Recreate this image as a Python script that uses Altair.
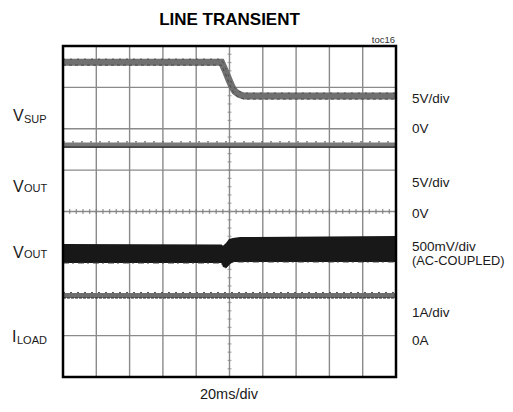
import altair as alt
import pandas as pd

# ---------------- data (time in ms, level in screen divisions) ----------------
grid_t = [20, 40, 60, 80, 100, 120, 140, 160, 180]
grid_y = [1, 2, 3, 4, 5, 6, 7]
minor_t = [i * 4 for i in range(1, 50)]
minor_y = [i * 0.2 for i in range(1, 40)]

vsup_t = [0, 95.2, 97.3, 99.7, 101.5, 103.3, 105.7, 108.7, 200]
vsup_y = [7.61, 7.61, 7.42, 7.18, 7.01, 6.90, 6.83, 6.79, 6.79]

voutdc_t = [0, 200]
voutdc_y = [5.61, 5.61]

voutac_t = [0, 95.2, 96.1, 97.9, 99.7, 102.1, 106.3, 200]
voutac_hi = [3.215, 3.20, 3.17, 3.24, 3.335, 3.36, 3.384, 3.408]
voutac_lo = [2.755, 2.755, 2.66, 2.634, 2.707, 2.78, 2.78, 2.78]

iload_t = [0, 200]
iload_y = [1.97, 1.97]

right_labels = ["5V/div", "0V", "5V/div", "0V", "500mV/div", "(AC-COUPLED)", "1A/div", "0A"]

FONT = "Liberation Sans Narrow, Liberation Sans, Arial, sans-serif"
W, H = 333, 331

xs = alt.Scale(domain=[0, 200], nice=False, zero=False)
ys = alt.Scale(domain=[0, 8], nice=False, zero=False)

def X(f):
    return alt.X(f, type="quantitative", scale=xs, axis=None)

def Y(f):
    return alt.Y(f, type="quantitative", scale=ys, axis=None)

GRID = "#8a8a8a"

vgrid = alt.Chart(pd.DataFrame({"t": grid_t})).mark_rule(color=GRID, strokeWidth=1.4).encode(x=X("t"))
hgrid = alt.Chart(pd.DataFrame({"y": grid_y})).mark_rule(color=GRID, strokeWidth=1.4).encode(y=Y("y"))

hticks = alt.Chart(pd.DataFrame({"t": minor_t, "y": [4] * len(minor_t)})).mark_tick(
    orient="vertical", color="#777", size=5, thickness=1.4).encode(x=X("t"), y=Y("y"))
vticks = alt.Chart(pd.DataFrame({"t": [100] * len(minor_y), "y": minor_y})).mark_tick(
    orient="horizontal", color="#888", size=4, thickness=1.2).encode(x=X("t"), y=Y("y"))

vsup_df = pd.DataFrame({"t": vsup_t, "y": vsup_y})
vsup = alt.Chart(vsup_df).mark_line(color="#707070", strokeWidth=7).encode(x=X("t"), y=Y("y"))
vsup_n1 = alt.Chart(vsup_df).mark_line(color="#444", strokeWidth=0.9, strokeDash=[2, 5], yOffset=-3).encode(x=X("t"), y=Y("y"))
vsup_n2 = alt.Chart(vsup_df).mark_line(color="#444", strokeWidth=0.9, strokeDash=[3, 3], yOffset=3).encode(x=X("t"), y=Y("y"))

vdc_df = pd.DataFrame({"t": voutdc_t, "y": voutdc_y})
vdc = alt.Chart(vdc_df).mark_line(color="#7a7a7a", strokeWidth=5).encode(x=X("t"), y=Y("y"))
vdc_n = alt.Chart(vdc_df).mark_line(color="#222", strokeWidth=1.2, yOffset=2.3).encode(x=X("t"), y=Y("y"))
vdc_n2 = alt.Chart(vdc_df).mark_line(color="#555", strokeWidth=1, strokeDash=[2, 7], yOffset=-3).encode(x=X("t"), y=Y("y"))

vac_df = pd.DataFrame({"t": voutac_t, "hi": voutac_hi, "lo": voutac_lo})
vac = alt.Chart(vac_df).mark_area(color="#181818", opacity=1).encode(
    x=X("t"), y=Y("hi"), y2=alt.Y2("lo"))
vac_tex = alt.Chart(vac_df).mark_line(color="#3a3a3a", strokeWidth=1, strokeDash=[6, 3, 2, 4]).encode(
    x=X("t"), y=Y("lo"), )

il_df = pd.DataFrame({"t": iload_t, "y": iload_y})
il = alt.Chart(il_df).mark_line(color="#6e6e6e", strokeWidth=5).encode(x=X("t"), y=Y("y"))
il_n = alt.Chart(il_df).mark_line(color="#222", strokeWidth=1.2, strokeDash=[3, 1], yOffset=2.5).encode(x=X("t"), y=Y("y"))
il_n2 = alt.Chart(il_df).mark_line(color="#555", strokeWidth=1, strokeDash=[2, 5], yOffset=-3).encode(x=X("t"), y=Y("y"))

frame = alt.Chart(pd.DataFrame({"a": [0], "b": [200], "c": [0], "d": [8]})).mark_rect(
    fillOpacity=0, stroke="black", strokeWidth=2.5).encode(
    x=X("a"), x2=alt.X2("b"), y=Y("c"), y2=alt.Y2("d"))

one = pd.DataFrame({"k": [0]})

def label(text, x, y, size=13.3, align="left", weight="normal", color="#1a1a1a"):
    return alt.Chart(one).mark_text(
        text=text, font=FONT, fontSize=size, align=align, baseline="alphabetic",
        fontWeight=weight, color=color).encode(x=alt.value(x), y=alt.value(y))

texts = [
    label("LINE TRANSIENT", 166.5, -21, size=17, align="center", weight="bold", color="black"),
    label("toc16", 332, -3, size=9.5, align="right", color="#333"),
    label("20ms/div", 166, 353, size=14.5, align="center"),
]
rl_y = [57, 87, 141, 172, 205, 219, 271, 299]
for t, yy in zip(right_labels, rl_y):
    texts.append(label(t, 349, yy, size=12.8 if t.startswith("(") else 13.5))

# left channel names (main letter + smaller subscript)
texts += [
    label("V", -50, 75, size=16), label("SUP", -39, 76.5, size=11),
    label("V", -50, 146, size=16), label("OUT", -39, 146, size=11),
    label("V", -50, 212, size=16), label("OUT", -39, 212, size=11),
    label("I", -51, 296, size=16), label("LOAD", -46, 297.5, size=11),
]

chart = alt.layer(
    vgrid, hgrid, hticks, vticks,
    vsup, vsup_n1, vsup_n2, vdc, vdc_n, vdc_n2, vac, vac_tex, il, il_n, il_n2,
    frame, *texts
).properties(
    width=W, height=H,
    autosize=alt.AutoSizeParams(type="none"),
    padding={"left": 55, "top": 38, "right": 109, "bottom": 26},
).configure_view(stroke=None)

chart.save("out.html", embed_options={"renderer": "svg", "actions": False})
